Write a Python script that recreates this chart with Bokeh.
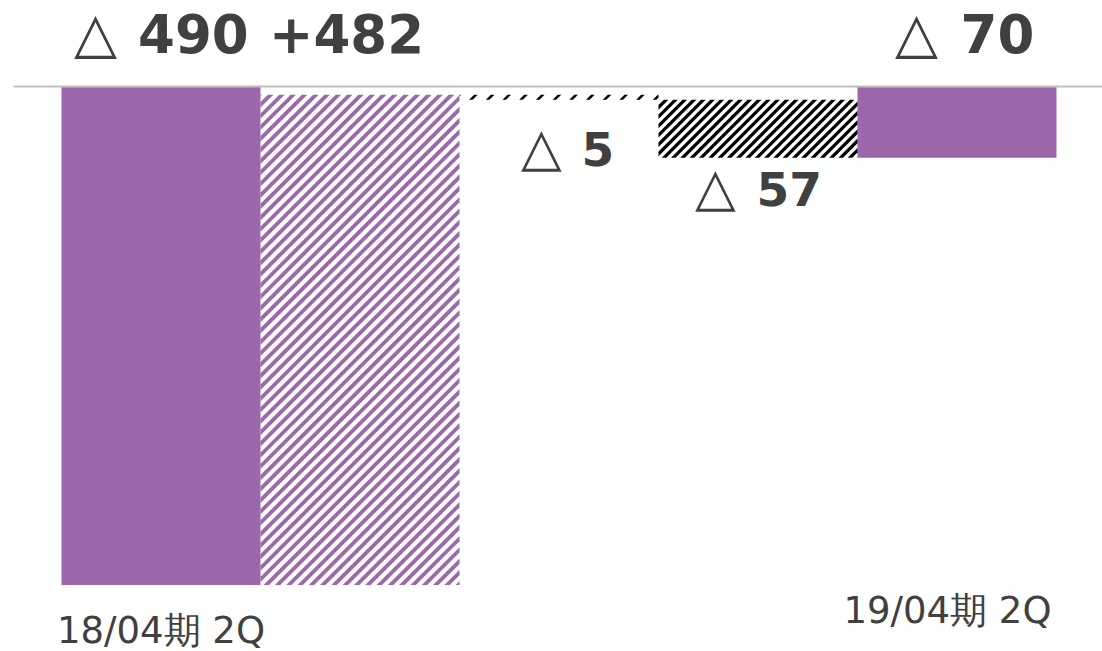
from bokeh.plotting import figure
from bokeh.models import Range1d
from bokeh.embed import file_html
from bokeh.resources import INLINE
from bokeh.core.properties import value

# ---------------- data ----------------
category_labels = ["18/04期 2Q", "19/04期 2Q"]
category_index = [0, 4]
start_total = -490
changes = [482, -5, -57]
end_total = -70
value_numbers = ["490", "+482", "5", "57", "70"]
value_triangle = [True, False, True, True, True]

# ---------------- style / layout constants ----------------
PURPLE = "#9C68AB"
TEXT = "#404040"
W, H = 1102, 651
PX_X = 199.0            # pixels per category
PX_Y = 1.0173           # pixels per unit
X0_PX = 160.5           # pixel of first bar centre
Y0_PX = 86.0            # pixel of zero line
BASE_FIX = 0.4          # baseline correction (fraction of font size)

x_start = -X0_PX / PX_X
x_end = x_start + W / PX_X
y_top = Y0_PX / PX_Y
y_bot = y_top - H / PX_Y


def dx(px):
    return px / PX_X


def dy(px):
    return px / PX_Y


# waterfall geometry derived from the data
tops, bottoms = [0], [start_total]
run = start_total
for c in changes:
    lo, hi = sorted([run, run + c])
    bottoms.append(lo)
    tops.append(hi)
    run += c
tops.append(0)
bottoms.append(end_total)
xs = list(range(len(tops)))


# ---------- 45 degree stripe fill (clipped to a bar) ----------
def clip_half(poly, f):
    out = []
    n = len(poly)
    for i in range(n):
        a, b = poly[i], poly[(i + 1) % n]
        fa, fb = f(a), f(b)
        if fa >= 0:
            out.append(a)
        if (fa >= 0) != (fb >= 0):
            t = fa / (fa - fb)
            out.append((a[0] + t * (b[0] - a[0]), a[1] + t * (b[1] - a[1])))
    return out


def stripes(xc, bottom, top, period, thick):
    # work in screen pixels (u right, v down)
    ul = (xc - 0.5 - x_start) * PX_X
    ur = (xc + 0.5 - x_start) * PX_X
    vt = (y_top - top) * PX_Y
    vb = (y_top - bottom) * PX_Y
    rect = [(ul, vt), (ur, vt), (ur, vb), (ul, vb)]
    lo_c = ul + vt
    hi_c = ur + vb
    k = int(lo_c // period) - 1
    px_list, py_list = [], []
    while k * period <= hi_c:
        c0 = k * period
        poly = clip_half(rect, lambda q, c0=c0: q[0] + q[1] - c0)
        poly = clip_half(poly, lambda q, c0=c0: c0 + thick - (q[0] + q[1]))
        if len(poly) >= 3:
            px_list.append([x_start + q[0] / PX_X for q in poly])
            py_list.append([y_top - q[1] / PX_Y for q in poly])
        k += 1
    return px_list, py_list


p = figure(width=W, height=H, output_backend="svg", toolbar_location=None,
           x_range=Range1d(x_start, x_end), y_range=Range1d(y_bot, y_top),
           min_border=0, border_fill_color="white", background_fill_color="white")
p.axis.visible = False
p.grid.visible = False
p.outline_line_color = None

# solid bars (first and last totals)
solid = [0, len(xs) - 1]
p.vbar(x=[xs[i] for i in solid], width=1.0, top=[tops[i] for i in solid],
       bottom=[bottoms[i] for i in solid], fill_color=PURPLE, line_color=None)

# hatched change bars
hatch_style = {1: (PURPLE, 11.3, 5.4), 2: ("black", 16.7, 3.6), 3: ("black", 9.3, 4.6)}
for i, (col, per, th) in hatch_style.items():
    sx, sy = stripes(xs[i], bottoms[i], tops[i], per, th)
    p.patches(xs=sx, ys=sy, fill_color=col, line_color=None)

# zero line
p.segment(x0=[x_start + dx(13)], y0=[0], x1=[x_end], y1=[0],
          line_color="#BFBFBF", line_width=2)


def label(x, base_y, txt, size, bold, align):
    y = base_y + dy(BASE_FIX * size)
    p.text(x=[x], y=[y], text=[txt], text_font=value("DejaVu Sans"),
           text_font_style="bold" if bold else "normal",
           text_font_size=f"{size}px", text_color=TEXT, text_align=align,
           text_baseline="alphabetic")


# value labels: (triangle centre px, number left px, baseline, num size, tri size)
big, big_tri = 53, 56
small, small_tri = 47, 53
place = {
    0: (-65.5, -23.0, dy(32), big, big_tri),
    1: (None, -13.5, dy(32), big, big_tri),
    2: (-17.5, 22.5, bottoms[2] - dy(68), small, small_tri),
    3: (-42.5, -1.5, bottoms[3] - dy(50), small, small_tri),
    4: (-40.5, 3.5, dy(32), big, big_tri),
}
for i, num in enumerate(value_numbers):
    tcx, nlx, by, fs, ts = place[i]
    if value_triangle[i]:
        label(xs[i] + dx(tcx), by, "△", ts, False, "center")
        label(xs[i] + dx(nlx), by, num, fs, True, "left")
    else:
        label(xs[i] + dx(nlx), by, num, fs, True, "center")

# category labels
cat_base = [bottoms[0] - dy(60.5), bottoms[-1] - dy(468)]
cat_shift = [0.0, -9.5]
for k in range(len(category_labels)):
    label(category_index[k] + dx(cat_shift[k]), cat_base[k],
          category_labels[k], 37, False, "center")

open("out.html", "w").write(file_html(p, INLINE))
